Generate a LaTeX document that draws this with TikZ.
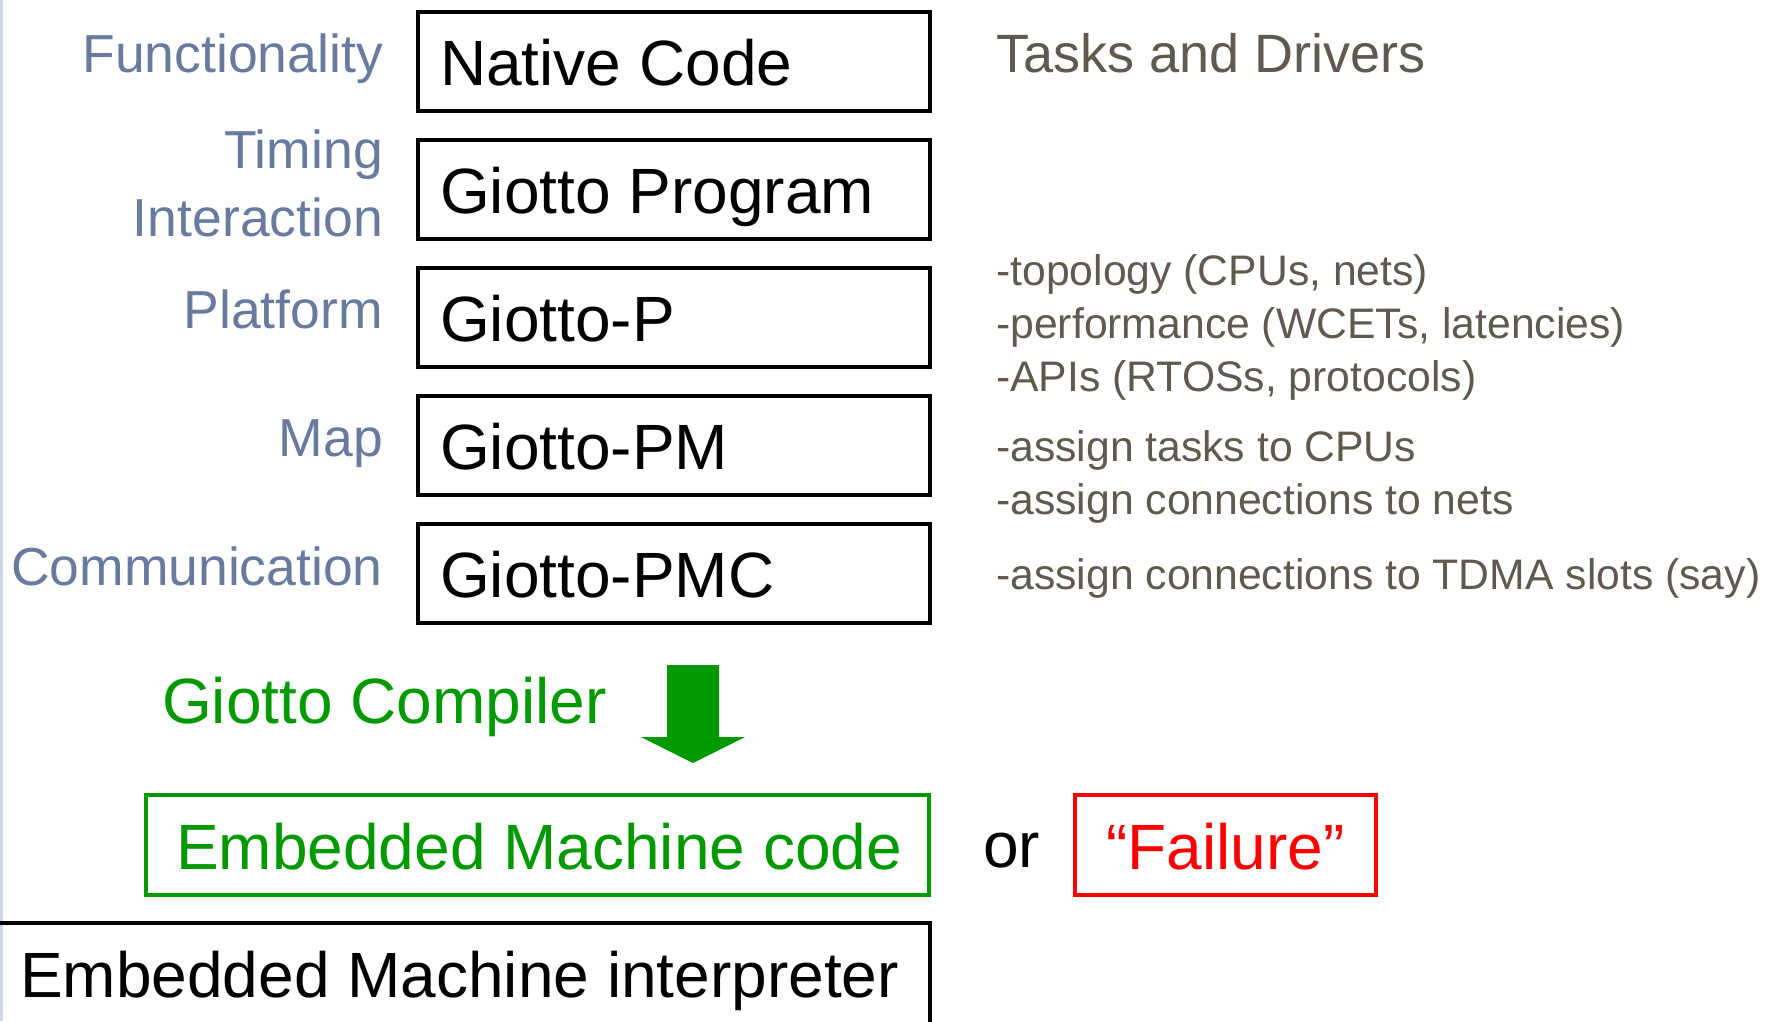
\documentclass[tikz,border=0pt]{standalone}
\usepackage{fontspec}
\setmainfont{Liberation Sans}
\definecolor{labelblue}{HTML}{687A9E}
\definecolor{notegray}{HTML}{5F5950}
\definecolor{compgreen}{HTML}{009900}
\definecolor{failred}{HTML}{FF0000}
\definecolor{edgeline}{HTML}{D0D5E5}
\newcommand{\fsz}[1]{\fontsize{#1}{#1}\selectfont}
\tikzset{
  layerbox/.style={draw=black, line width=4pt, minimum width=511.5pt, minimum height=99pt, inner sep=0pt},
  boxtext/.style={anchor=base west, inner sep=0pt, font=\fsz{64}, text=black},
  leftlabel/.style={anchor=base east, inner sep=0pt, font=\fsz{53.5}, text=labelblue},
  note/.style={anchor=base west, inner sep=0pt, font=\fsz{42.7}, text=notegray},
  bigtext/.style={inner sep=0pt, font=\fsz{64}},
}
\begin{document}
\begin{tikzpicture}[x=1pt,y=-1pt]
\useasboundingbox (0,0) rectangle (1775,1021);
\clip (0,0) rectangle (1775,1021);
\fill[white] (0,0) rectangle (1775,1021);
\draw[edgeline, line width=3pt] (1.5,0) -- (1.5,1021);
% layer boxes
\node[layerbox] (b1) at (673.75,61.5) {};
\node[layerbox] (b2) at (673.75,189.5) {};
\node[layerbox] (b3) at (673.75,317.5) {};
\node[layerbox] (b4) at (673.75,445.5) {};
\node[layerbox] (b5) at (673.75,573.5) {};
\node[boxtext] (t1) at (440,85) {Native Code};
\node[boxtext] (t2) at (440,213) {Giotto Program};
\node[boxtext] (t3) at (440,341) {Giotto-P};
\node[boxtext] (t4) at (440,469) {Giotto-PM};
\node[boxtext] (t5) at (440,597) {Giotto-PMC};
% left labels
\node[leftlabel] (l1) at (383,72) {Functionality};
\node[leftlabel] (l2a) at (383,168) {Timing};
\node[leftlabel] (l2b) at (383,236) {Interaction};
\node[leftlabel] (l3) at (383,328) {Platform};
\node[leftlabel] (l4) at (383,456) {Map};
\node[leftlabel] (l5) at (383,585) {Communication};
% right notes
\node[note, font=\fsz{54}] (r1) at (996,72) {Tasks and Drivers};
\node[note] (r2) at (996,285) {-topology (CPUs, nets)};
\node[note] (r3) at (996,338) {-performance (WCETs, latencies)};
\node[note] (r4) at (996,391) {-APIs (RTOSs, protocols)};
\node[note] (r5) at (996,461) {-assign tasks to CPUs};
\node[note] (r6) at (996,514) {-assign connections to nets};
\node[note] (r7) at (996,589) {-assign connections to TDMA slots (say)};
% compiler
\node[bigtext, anchor=base west, text=compgreen] (gc) at (162,723) {Giotto Compiler};
\fill[compgreen] (667,665) -- (719,665) -- (719,737) -- (745,737) -- (693,763) -- (641,737) -- (667,737) -- cycle;
% outputs
\node[draw=compgreen, line width=4pt, minimum width=783pt, minimum height=100pt, inner sep=0pt] (emc) at (537.5,845) {};
\node[bigtext, anchor=base west, text=compgreen] (emct) at (176,869) {Embedded Machine code};
\node[bigtext, anchor=base west, text=black] (or) at (983,867) {or};
\node[draw=failred, line width=4pt, minimum width=301pt, minimum height=100pt, inner sep=0pt] (fail) at (1225.5,845) {};
\node[bigtext, anchor=base, text=failred] (failt) at (1225.5,869) {“Failure”};
% interpreter
\node[draw=black, line width=4pt, minimum width=950pt, minimum height=130pt, inner sep=0pt] (emi) at (454.5,988) {};
\node[bigtext, anchor=base west, text=black] (emit) at (20,997) {Embedded Machine interpreter};
\end{tikzpicture}
\end{document}
